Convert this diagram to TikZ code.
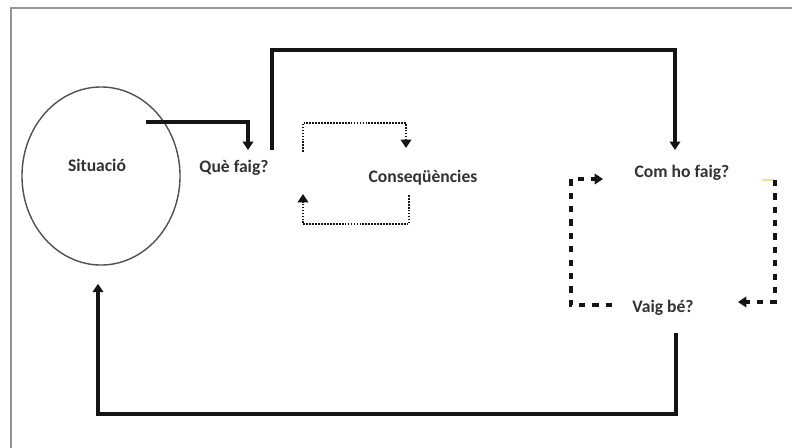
\documentclass[tikz,border=0pt]{standalone}
\usepackage{xcolor}
\usepackage{fontspec}
\setmainfont{Carlito}
\usepackage{tikz}
\usetikzlibrary{shapes.geometric, arrows.meta}
\definecolor{mydark}{RGB}{20,20,20}
\definecolor{mytext}{RGB}{50,50,50}
\definecolor{myframe}{RGB}{150,150,150}
\definecolor{mycircle}{RGB}{80,80,80}
\definecolor{myyellow}{RGB}{240,225,150}
\tikzset{
  label/.style={font=\fontsize{12.5}{14}\selectfont\bfseries, color=mytext,
    inner sep=0pt},
  bubble/.style={ellipse, draw=mycircle, line width=1pt,
    minimum width=3.95cm, minimum height=4.45cm},
  flow/.style={-{Triangle[width=7.5pt,length=6pt]}, line width=2.6pt, color=mydark},
  dotflow/.style={flow, line width=2pt, dash pattern=on 1.2pt off 0.9pt},
  dashflow/.style={flow, line width=2.4pt, dash pattern=on 4.5pt off 5pt},
  frame/.style={line width=1.6pt, color=myframe}
}
\begin{document}
\begin{tikzpicture}[x=0.025cm, y=-0.025cm]
  \clip (0,0) rectangle (792,448);
  % Frame
  \draw[frame] (11,8) rectangle (800,460);

  % Nodes
  \node[bubble] (sit) at (101,176) {};
  \node[label] (sitlabel) at (97,165) {Situació};
  \node[label] (que) at (234,168) {Què faig?};
  \node[label] (cons) at (423,178) {Conseqüències};
  \node[label] (com) at (682,173) {Com ho faig?};
  \node[label] (vaig) at (663,308) {Vaig bé?};

  % Main loop
  \draw[flow] ([shift={(45,-54)}]sit.center) -| ([shift={(14,-18)}]que.center);
  \draw[flow] ([shift={(38,-18)}]que.center) -- ++(0,-100)
    -| ([shift={(-7,-23)}]com.center);
  \draw[flow] ([shift={(13,25)}]vaig.center) -- ++(0,81)
    -| ([shift={(-3,18)}]sit.south);

  % Dotted loop round the consequences
  \draw[dotflow] ([shift={(-120,-26)}]cons.center) -- ++(0,-29)
    -| ([shift={(-17,-30)}]cons.center);
  \draw[dotflow] ([shift={(-14,17)}]cons.center) -- ++(0,29)
    -| ([shift={(-120,16)}]cons.center);

  % Dashed loop between doing and checking
  \draw[dashflow] ([shift={(-51,-3)}]vaig.center) -- ++(-41,0)
    |- ([shift={(-79,6)}]com.center);
  \draw[line width=1.4pt, color=myyellow] ([shift={(80,7)}]com.center) -- ++(13,0);
  \draw[dashflow] ([shift={(93,7)}]com.center)
    |- ([shift={(75,-6)}]vaig.center);
\end{tikzpicture}
\end{document}
